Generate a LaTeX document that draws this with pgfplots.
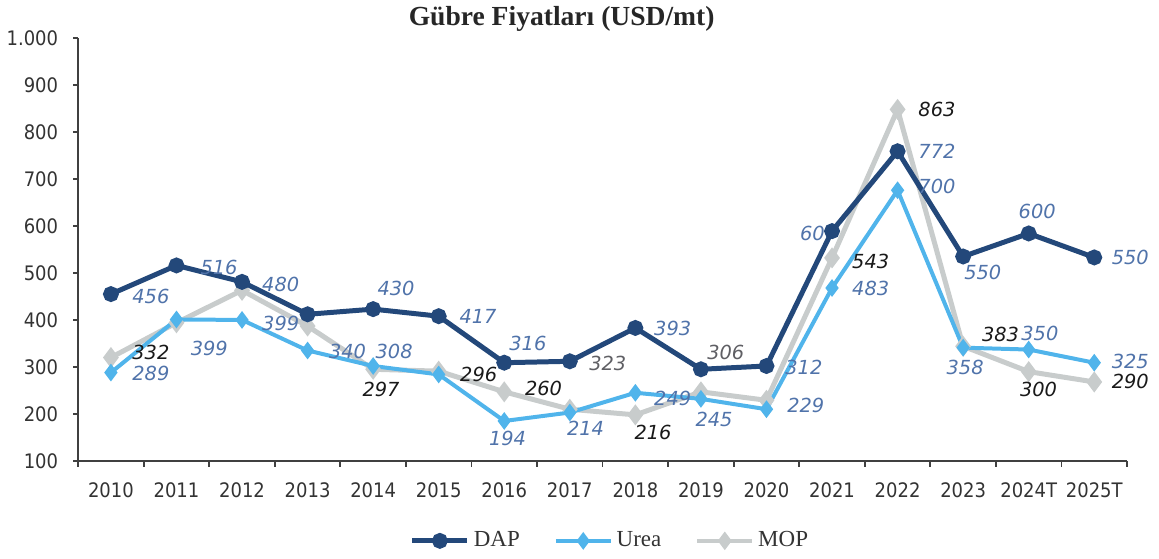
\documentclass[border=0pt]{standalone}
\usepackage{fontspec}
\setmainfont{Liberation Serif}
\newfontfamily\cond{DejaVu Sans Condensed}
\newfontfamily\lab{DejaVu Sans}
\usepackage{pgfplots}
\usepackage{pgfplotstable}
\pgfplotsset{compat=1.18}

\definecolor{dapc}{RGB}{35,72,122}
\definecolor{ureac}{RGB}{80,180,235}
\definecolor{mopc}{RGB}{200,204,204}
\definecolor{labblue}{RGB}{80,115,170}
\definecolor{labgray}{RGB}{95,95,100}
\definecolor{axisc}{RGB}{64,64,64}

% prices as drawn (x = 0 for 2010 ... 15 for 2025T)
\pgfplotstableread{
x  dap urea mop
0  455 288 320
1  516 401 394
2  481 400 463
3  412 335 387
4  423 302 295
5  408 284 291
6  309 185 247
7  312 203 210
8  383 245 198
9  295 232 247
10 302 210 229
11 589 468 532
12 759 676 848
13 535 341 344
14 584 337 290
15 533 309 268
}\prices

% data labels: position and text
\pgfplotstableread{
x     y   t
0.61  451 456
1.65  512 516
2.59  476 480
4.35  468 430
5.60  408 417
6.36  351 316
8.57  381 393
10.70 585 60
12.60 759 772
13.30 500 550
14.13 631 600
15.55 534 550
0.61  287 289
1.50  340 399
2.59  393 399
3.61  334 340
4.32  334 308
6.05  147 194
7.24  170 214
8.57  234 249
9.20  189 245
10.57 298 312
10.60 217 229
11.59 468 483
12.60 685 700
13.03 298 358
14.17 372 350
15.55 311 325
}\bluelabels

\pgfplotstableread{
x     y   t
0.61  330 332
4.12  253 297
5.61  285 296
6.60  255 260
8.27  160 216
11.59 525 543
12.60 848 863
13.57 370 383
14.15 253 300
15.55 270 290
}\blacklabels

\pgfplotstableread{
x     y   t
9.38  330 306
7.58  308 323
}\graylabels

\begin{document}
\begin{tikzpicture}
\begin{axis}[
  scale only axis, width=525pt, height=211.7pt,
  xmin=-0.5, xmax=15.5, ymin=100, ymax=1000,
  axis lines=left, axis line style={axisc, line width=0.9pt, -},
  clip=false,
  xtick={0,...,15},
  xticklabels={2010,2011,2012,2013,2014,2015,2016,2017,2018,2019,2020,2021,2022,2023,2024T,2025T},
  minor xtick={-0.5,0.5,...,15.5},
  major x tick style={draw=none},
  minor x tick style={axisc, line width=0.9pt},
  minor tick length=3pt,
  ytick={100,200,...,1000},
  yticklabels={100,200,300,400,500,600,700,800,900,1.000},
  major tick length=2.5pt,
  tick align=outside,
  ytick style={axisc, line width=0.9pt},
  /pgf/number format/assume math mode=true,
  ticklabel style={font=\cond\fontsize{10}{12}\selectfont, text=black!80},
  xticklabel style={yshift=-5pt},
  yticklabel style={xshift=-4pt},
  title={Gübre Fiyatları (USD/mt)},
  title style={at={(0.461,1)}, anchor=center, yshift=3.4pt,
    font=\fontsize{13.8}{15}\selectfont\bfseries, text=black!85},
  legend columns=3,
  legend style={at={(0.508,-0.189)}, anchor=center, draw=none, fill=none,
    font=\fontsize{11.5}{13}\selectfont, text=black!80,
    /tikz/every even column/.append style={column sep=15pt},
    inner sep=0pt},
  legend image code/.code={\draw[mark repeat=2,mark phase=2,#1]
    plot coordinates {(0pt,0pt) (13.75pt,0pt) (27.5pt,0pt)};},
]
\addlegendimage{dapc, line width=2.5pt, mark=*, mark size=2.7pt}
\addlegendentry{DAP}
\addlegendimage{ureac, line width=2pt, mark=diamond*, mark size=2.8pt}
\addlegendentry{Urea}
\addlegendimage{mopc, line width=2pt, mark=diamond*, mark size=3pt}
\addlegendentry{MOP}

\addplot[mopc, line width=2.5pt, mark=diamond*, mark size=3.2pt, forget plot]
  table[x=x, y=mop]{\prices};
\addplot[ureac, line width=2pt, mark=diamond*, mark size=2.8pt, forget plot]
  table[x=x, y=urea]{\prices};
\addplot[dapc, line width=2.5pt, mark=*, mark size=2.7pt, forget plot]
  table[x=x, y=dap]{\prices};

\addplot[draw=none, forget plot, nodes near coords, point meta=explicit symbolic,
  every node near coord/.append style={anchor=center, inner sep=0pt,
    font=\lab\itshape\fontsize{9.7}{11}\selectfont, text=labblue}]
  table[x=x, y=y, meta=t]{\bluelabels};
\addplot[draw=none, forget plot, nodes near coords, point meta=explicit symbolic,
  every node near coord/.append style={anchor=center, inner sep=0pt,
    font=\lab\itshape\fontsize{9.7}{11}\selectfont, text=black!90}]
  table[x=x, y=y, meta=t]{\blacklabels};
\addplot[draw=none, forget plot, nodes near coords, point meta=explicit symbolic,
  every node near coord/.append style={anchor=center, inner sep=0pt,
    font=\lab\itshape\fontsize{9.7}{11}\selectfont, text=labgray}]
  table[x=x, y=y, meta=t]{\graylabels};
\end{axis}
\path ([shift={(-38.5pt,-49pt)}]current axis.south west)
  rectangle ([shift={(16pt,18.3pt)}]current axis.north east);
\end{tikzpicture}
\end{document}
